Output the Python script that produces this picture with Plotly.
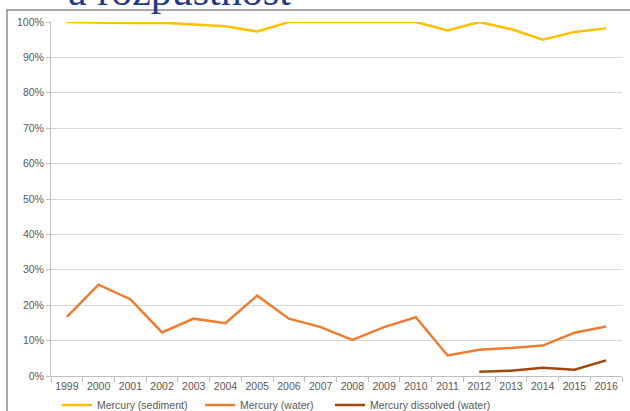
import plotly.graph_objects as go

years = [str(y) for y in range(1999, 2017)]
sediment = [100, 99.8, 99.7, 99.8, 99.3, 98.8, 97.3, 100, 100, 100, 100, 100, 97.6, 100, 98.0, 95.0, 97.2, 98.2]
water = [16.7, 25.8, 21.7, 12.3, 16.2, 14.9, 22.7, 16.2, 13.8, 10.2, 13.8, 16.6, 5.8, 7.4, 7.9, 8.6, 12.2, 14.0]
dissolved = [None] * 13 + [1.2, 1.5, 2.3, 1.8, 4.4]

def frac(v):
    return [None if x is None else x / 100 for x in v]

fig = go.Figure()
fig.add_trace(go.Scatter(x=years, y=frac(sediment), mode="lines", name="Mercury (sediment)",
                         line=dict(color="#FFC000", width=2.5), cliponaxis=False, legend="legend"))
fig.add_trace(go.Scatter(x=years, y=frac(water), mode="lines", name="Mercury (water)",
                         line=dict(color="#ED7D31", width=2.5), cliponaxis=False, legend="legend2"))
fig.add_trace(go.Scatter(x=years, y=frac(dissolved), mode="lines", name="Mercury dissolved (water)",
                         line=dict(color="#9E480E", width=2.5), cliponaxis=False, legend="legend3"))

font = "Liberation Sans, Arial, sans-serif"
W, H = 630, 411
leg_common = dict(orientation="h", xanchor="left", yanchor="middle", xref="container", yref="container",
                  y=(H - 405) / H, font=dict(size=10.5, color="#595959"), itemwidth=30,
                  bgcolor="rgba(0,0,0,0)")
fig.update_layout(
    width=W, height=H,
    margin=dict(l=51, r=8, t=22, b=35, autoexpand=False),
    paper_bgcolor="white", plot_bgcolor="white",
    font=dict(family=font, size=10.5, color="#595959"),
    showlegend=True,
    legend=dict(x=57 / W, **leg_common),
    legend2=dict(x=200 / W, **leg_common),
    legend3=dict(x=330 / W, **leg_common),
    xaxis=dict(type="category", range=[-0.5, 17.5], showgrid=False, showline=True,
               linecolor="#BFBFBF", linewidth=1, ticks="outside", tickson="boundaries",
               ticklen=5, tickcolor="#BFBFBF", tickfont=dict(size=10.5, color="#595959"),
               tickangle=0, fixedrange=True),
    yaxis=dict(range=[0, 1], tickformat=".0%", dtick=0.1, showgrid=True, gridcolor="#D9D9D9",
               gridwidth=1, showline=True, linecolor="#BFBFBF", ticks="outside", ticklen=4,
               tickcolor="#BFBFBF", zeroline=False, tickfont=dict(size=10.5, color="#595959"),
               fixedrange=True),
)

# chart border
fig.add_shape(type="rect", xref="paper", yref="paper",
              x0=(7 - 51) / 571, x1=1.1, y0=-0.2, y1=1 + 12 / 353.7,
              line=dict(color="#8C8C8C", width=1.5), fillcolor="rgba(0,0,0,0)", layer="below")

# cut-off slide title
fig.add_annotation(text="a rozpustnost", xref="paper", yref="paper",
                   x=(66 - 51) / 571, xanchor="left", y=1 + (22 - 13) / 353.7, yanchor="bottom",
                   yshift=-3, showarrow=False,
                   font=dict(family="Liberation Serif, Times New Roman, serif", size=42, color="#1F3C88"))

fig.write_html("out.html", config={"displayModeBar": False},
               post_script="document.body.style.margin='0';document.body.style.overflow='hidden';")
